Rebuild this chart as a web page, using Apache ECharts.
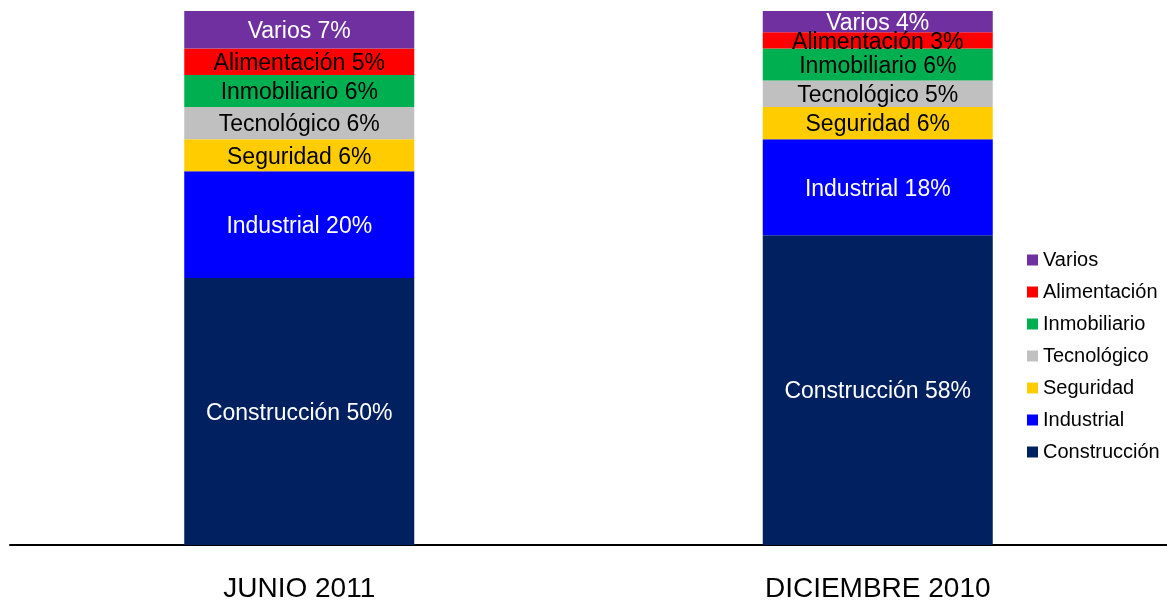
<!DOCTYPE html>
<html>
<head>
<meta charset="utf-8">
<script src="https://cdn.jsdelivr.net/npm/echarts@6/dist/echarts.min.js"></script>
<style>html,body{margin:0;padding:0;background:#fff}#c{width:1167px;height:603px}</style>
</head>
<body>
<div id="c"></div>
<script>
const categories = ['JUNIO 2011', 'DICIEMBRE 2010'];
const seriesNames = ['Construcción', 'Industrial', 'Seguridad', 'Tecnológico', 'Inmobiliario', 'Alimentación', 'Varios'];
const construccion = [50, 58];
const industrial = [20, 18];
const seguridad = [6, 6];
const tecnologico = [6, 5];
const inmobiliario = [6, 6];
const alimentacion = [5, 3];
const varios = [7, 4];
const colors = ['#002060', '#0000FF', '#FFCC00', '#C0C0C0', '#00B050', '#FF0000', '#7030A0'];
const labelColors = ['#fff', '#fff', '#000', '#000', '#000', '#000', '#fff'];
const values = [construccion, industrial, seguridad, tecnologico, inmobiliario, alimentacion, varios];

const chart = echarts.init(document.getElementById('c'));
const font = '"Liberation Sans", Arial, sans-serif';
chart.setOption({
  animation: false,
  textStyle: { fontFamily: font },
  grid: { left: 10, right: 0, top: 11, bottom: 56 },
  legend: {
    orient: 'vertical', left: 1022, top: 245,
    itemWidth: 11, itemHeight: 11, itemGap: 12,
    icon: 'rect',
    data: seriesNames.slice().reverse(),
    textStyle: { fontSize: 20, color: '#000', fontFamily: font, padding: [0,0,0,0] }
  },
  xAxis: {
    type: 'category', data: categories,
    axisLine: { lineStyle: { color: '#000', width: 2 } },
    axisTick: { show: false },
    axisLabel: { fontSize: 28, color: '#000', margin: 30, fontFamily: font }
  },
  yAxis: { type: 'value', min: 0, max: 100, show: false, splitLine: { show: false } },
  series: seriesNames.map((n, i) => ({
    name: n, type: 'bar', stack: 'total', barWidth: 230,
    data: values[i],
    itemStyle: { color: colors[i] },
    label: {
      show: true, position: 'inside', formatter: '{a} {c}%',
      color: labelColors[i], fontSize: 23, fontFamily: font,
      textBorderWidth: 0, offset: [0, 2]
    }
  }))
});
</script>
</body>
</html>
